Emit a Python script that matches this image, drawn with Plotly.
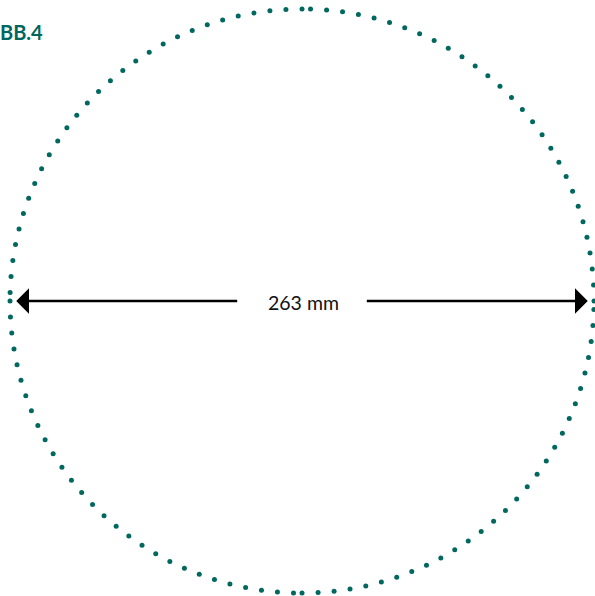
import numpy as np
import plotly.graph_objects as go

# ---- data ----
DIAMETER_MM = 263                 # measured diameter shown in the drawing
LABEL = f"{DIAMETER_MM} mm"
TITLE = "BB.4"
DOTS_PER_QUARTER = 29             # dotted outline, restarted at each quarter
DOT_STEP_MM = 7.24                # spacing between outline dots along the arc

TEAL = "#00685f"
R = DIAMETER_MM / 2

# dotted circle outline (four quarter arcs, counter-clockwise)
step = DOT_STEP_MM / R
ang = np.concatenate([q * np.pi / 2 + np.arange(DOTS_PER_QUARTER) * step for q in range(4)])
cx = R * np.cos(ang)
cy = R * np.sin(ang)

# scale: pixels per mm and plot ranges so the circle fills the canvas
W, H = 595, 596
s = 292 / R
x_rng = [(0 - 302) / s, (W - 302) / s]
y_rng = [-(H - 301) / s, 301 / s]

fig = go.Figure()
fig.add_trace(go.Scatter(
    x=cx, y=cy, mode="markers",
    marker=dict(size=5, color=TEAL, line=dict(width=0)),
    hoverinfo="skip", showlegend=False, cliponaxis=False,
))

head_x = R - 2.8      # arrow tip inset from outline
tail_x = 28.5         # gap for the label
for sign in (-1, 1):
    fig.add_annotation(
        x=sign * head_x, y=0, ax=sign * tail_x, ay=0,
        xref="x", yref="y", axref="x", ayref="y",
        showarrow=True, arrowhead=1, arrowsize=1.7, arrowwidth=2.5,
        arrowcolor="#000000", text="", standoff=0,
    )

fig.add_annotation(
    x=0.5, y=-0.5, xref="x", yref="y", text=LABEL, showarrow=False,
    font=dict(family="Lato", size=19.5, color="#111111"),
    xanchor="center", yanchor="middle",
)

fig.add_annotation(
    x=0, y=1 - 32 / H, xref="paper", yref="paper", text=f"<b>{TITLE}</b>",
    showarrow=False, xanchor="left", yanchor="middle", xshift=-2,
    font=dict(family="Lato", size=20, color=TEAL, weight=900),
)

fig.update_layout(
    width=W, height=H,
    margin=dict(l=0, r=0, t=0, b=0),
    paper_bgcolor="white", plot_bgcolor="white",
    xaxis=dict(range=x_rng, visible=False, fixedrange=True),
    yaxis=dict(range=y_rng, visible=False, fixedrange=True),
    showlegend=False,
)

fig.write_html("out.html", post_script="document.body.style.margin='0';",
               config={"displayModeBar": False})
